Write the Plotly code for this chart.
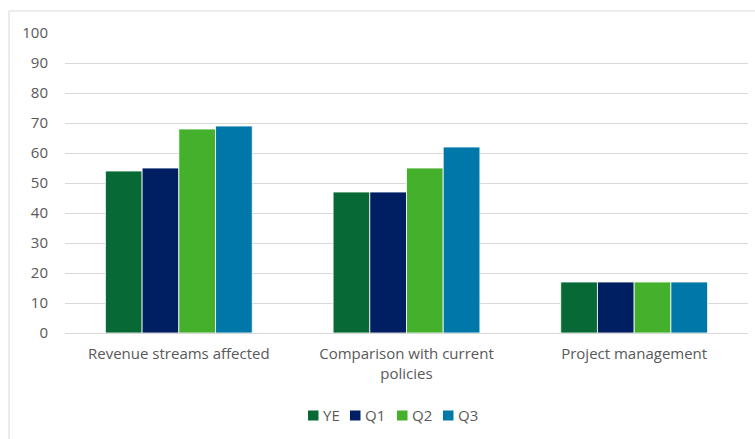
import plotly.graph_objects as go

categories = ["Revenue streams affected", "Comparison with current<br>policies", "Project management"]
series_names = ["YE", "Q1", "Q2", "Q3"]
ye_values = [54, 47, 17]
q1_values = [55, 47, 17]
q2_values = [68, 55, 17]
q3_values = [69, 62, 17]
series_values = [ye_values, q1_values, q2_values, q3_values]
series_colors = ["#076936", "#001F62", "#44B02C", "#0077A9"]
y_ticks = list(range(0, 101, 10))

W, H = 755, 439
L, R, T, B = 65, 7, 33, 106
pw, ph = W - L - R, H - T - B
TEXT = "#595959"
FONT = "Open Sans, Noto Sans, sans-serif"


def px_x(x):
    return (x - L) / pw


def px_y(y):
    return (H - B - y) / ph


fig = go.Figure()
for name, vals, col in zip(series_names, series_values, series_colors):
    fig.add_trace(go.Bar(
        x=categories, y=vals, name=name, showlegend=False,
        marker=dict(color=col, line=dict(color="white", width=0.8)),
    ))

# Legend row under the plot: coloured square followed by the series name
legend_left = [308, 350, 397, 443]
shapes = [dict(type="rect", xref="paper", yref="paper",
               x0=px_x(9), x1=px_x(757), y0=px_y(441), y1=px_y(11),
               line=dict(color="#D9D9D9", width=1), fillcolor="rgba(0,0,0,0)", layer="below")]
annotations = []
for name, col, x0 in zip(series_names, series_colors, legend_left):
    shapes.append(dict(type="rect", xref="paper", yref="paper",
                       x0=px_x(x0), x1=px_x(x0 + 10.5), y0=px_y(420.5), y1=px_y(410.5),
                       line=dict(width=0), fillcolor=col))
    annotations.append(dict(xref="paper", yref="paper", x=px_x(x0 + 12.5), y=px_y(414.5),
                            xanchor="left", yanchor="middle", showarrow=False, text=name,
                            font=dict(family=FONT, size=15, color=TEXT)))

fig.update_layout(
    width=W, height=H,
    margin=dict(l=L, r=R, t=T, b=B),
    paper_bgcolor="white", plot_bgcolor="white",
    barmode="group", bargap=0.355, bargroupgap=0,
    showlegend=False,
    font=dict(family=FONT, size=15, color=TEXT),
    xaxis=dict(showgrid=False, showline=False, ticks="", tickfont=dict(size=15),
               ticklabelstandoff=10),
    yaxis=dict(range=[0, 100], tickvals=y_ticks, showgrid=True, gridcolor="#D9D9D9",
               gridwidth=1, zeroline=True, zerolinecolor="#D9D9D9", zerolinewidth=1,
               ticks="", tickfont=dict(size=15), ticklabelstandoff=16),
    shapes=shapes,
    annotations=annotations,
)

fig.write_html("out.html")
